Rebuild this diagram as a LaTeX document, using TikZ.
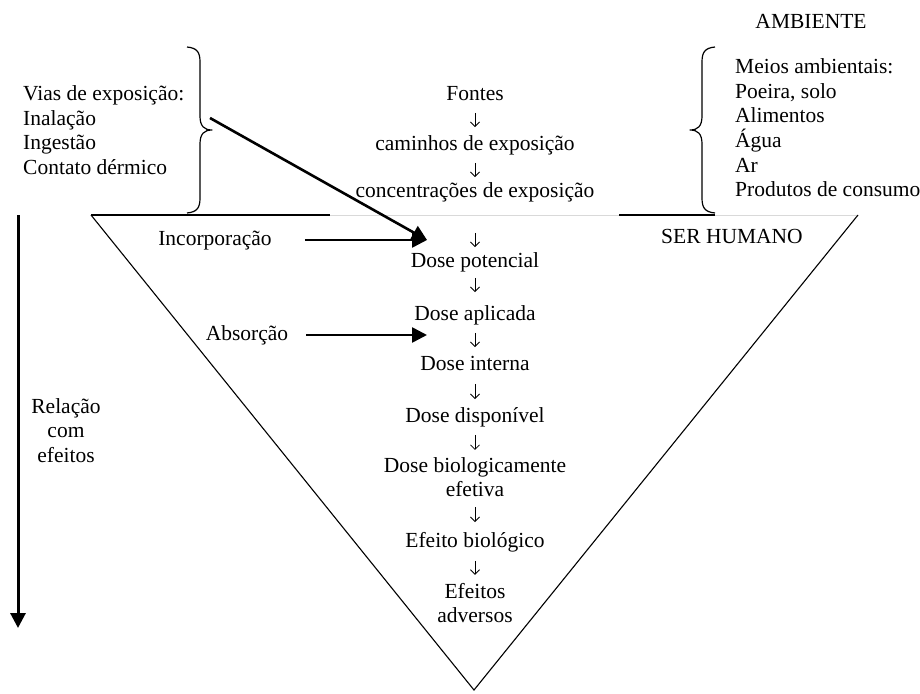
\documentclass[tikz,border=0pt]{standalone}
\usepackage{fontspec}
\setmainfont{Liberation Serif}
\usetikzlibrary{arrows.meta}

\begin{document}
\begin{tikzpicture}[x=1pt,y=-1pt,
  texto/.style={inner sep=0pt,font=\fontsize{21.5}{24.7}\selectfont},
  linha/.style={texto,text height=16.1pt,text depth=5.4pt},
  bloco/.style={texto,align=left,anchor=north west},
  etapa/.style={texto,align=center},
  desce/.style={line width=.8pt,-{Straight Barb[length=4.5pt,width=9pt]},shorten <=7pt,shorten >=7pt},
  grossa/.style={line width=2.6pt,-{Triangle[length=15pt,width=15pt]}},
  chave/.style={line width=1.2pt,line join=round}]
\useasboundingbox (0,0) rectangle (920,693);
% triangulo
\draw[black!15,line width=.8pt] (91,215)--(858,215);
\draw[line width=1.1pt] (91,215)--(474,690)--(858,215);
\draw[line width=2pt] (91,215)--(330,215) (619,215)--(715,215);
% chaves
\draw[chave] (187,47) .. controls (197,48) and (200,52) .. (200,62) -- (200,116)
  .. controls (200,126) and (204,130) .. (212,130) .. controls (204,130) and (200,134) .. (200,144)
  -- (200,198) .. controls (200,208) and (197,212) .. (187,213);
\draw[chave] (715,47) .. controls (705,48) and (702,52) .. (702,62) -- (702,116)
  .. controls (702,126) and (698,130) .. (690,130) .. controls (698,130) and (702,134) .. (702,144)
  -- (702,198) .. controls (702,208) and (705,212) .. (715,213);

% textos laterais
\node[linha] (ambiente) at (811,23.5) {AMBIENTE};
\node[bloco] (meios) at (735,58.3) {Meios ambientais:\\Poeira, solo\\Alimentos\\Água\\Ar\\Produtos de consumo};
\node[bloco] (vias) at (23,85.3) {Vias de exposição:\\Inalação\\Ingestão\\Contato dérmico};
\node[linha] (humano) at (732,238.5) {SER HUMANO};
\node[linha] (incorp) at (215,240) {Incorporação};
\node[linha] (absorc) at (247,335) {Absorção};
\node[etapa] (relacao) at (66,430.4) {Relação\\com\\efeitos};

% coluna central
\node[linha] (fontes) at (475,95) {Fontes};
\node[linha] (caminhos) at (475,145) {caminhos de exposição};
\node[linha] (concentr) at (475,192) {concentrações de exposição};
\node[linha] (potencial) at (475,262) {Dose potencial};
\node[linha] (aplicada) at (475,315) {Dose aplicada};
\node[linha] (interna) at (475,365) {Dose interna};
\node[linha] (disponivel) at (475,417) {Dose disponível};
\node[etapa] (efetiva) at (475,477) {Dose biologicamente\\efetiva};
\node[linha] (efeito) at (475,542) {Efeito biológico};
\node[etapa] (adversos) at (475,603) {Efeitos\\adversos};

\draw[desce] (fontes) -- (caminhos);
\draw[desce,shorten >=4pt] (caminhos) -- (concentr);
\draw[desce,shorten <=30pt,shorten >=4pt] (concentr) -- (potencial);
\draw[desce,shorten <=5pt,shorten >=12pt] (potencial) -- (aplicada);
\draw[desce] (aplicada) -- (interna);
\draw[desce,shorten <=8pt] (interna) -- (disponivel);
\draw[desce] (disponivel) -- (efetiva);
\draw[desce,shorten <=10pt,shorten >=9pt] (efetiva) -- (efeito);
\draw[desce,shorten <=8pt,shorten >=8pt] (efeito) -- (adversos);

% setas grossas
\coordinate (ponta) at (210,118);
\coordinate (entrada) at (427,240);
\coordinate (absorve) at (427,335);
\coordinate (topo) at (18,215);
\coordinate (base) at (18,628);
\draw[grossa] (ponta) -- (entrada);
\draw[grossa,shorten <=33pt] (incorp.east) -- (entrada);
\draw[grossa,shorten <=18pt] (absorc.east) -- (absorve);
\draw[line width=3pt,-{Triangle[length=15pt,width=15pt]}] (topo) -- (base);
\end{tikzpicture}
\end{document}
